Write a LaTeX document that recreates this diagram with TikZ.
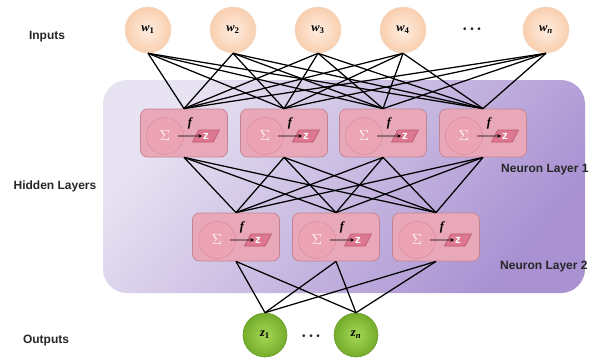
\documentclass[tikz,border=0pt]{standalone}
\usepackage{fontspec}
\setmainfont{Liberation Serif}
\setsansfont{Liberation Sans}
\usetikzlibrary{shapes.geometric,arrows.meta}

\definecolor{bgA}{HTML}{E8E3F2}
\definecolor{bgB}{HTML}{A991D2}
\definecolor{peachIn}{HTML}{FEEDE0}
\definecolor{peachOut}{HTML}{F9CFAE}
\definecolor{peachEdge}{HTML}{F3D9C6}
\definecolor{greenIn}{HTML}{A6D856}
\definecolor{greenOut}{HTML}{74AC2C}
\definecolor{greenEdge}{HTML}{6B9F28}
\definecolor{cellFill}{HTML}{E9A8B9}
\definecolor{cellEdge}{HTML}{C48593}
\definecolor{sumFill}{HTML}{ECA3B4}
\definecolor{sumEdge}{HTML}{D8909F}
\definecolor{actFill}{HTML}{DE7890}
\definecolor{actEdge}{HTML}{B85A70}

\tikzset{
  inputnode/.style={circle, minimum size=46pt, inner sep=0pt, draw=peachEdge,
    line width=0.6pt, inner color=peachIn, outer color=peachOut,
    font=\bfseries\itshape\fontsize{12.5}{12}\selectfont},
  outputnode/.style={circle, minimum size=44pt, inner sep=0pt, draw=greenEdge,
    line width=0.6pt, inner color=greenIn, outer color=greenOut,
    font=\bfseries\itshape\fontsize{12.5}{12}\selectfont},
  cell/.style={rectangle, rounded corners=7pt, minimum width=87pt,
    minimum height=48pt, draw=cellEdge, fill=cellFill, line width=0.8pt},
  sumnode/.style={circle, minimum size=37pt, inner sep=0pt, draw=sumEdge,
    fill=sumFill, text=white, line width=0.6pt, font=\fontsize{14}{14}\selectfont},
  actnode/.style={trapezium, trapezium left angle=68, trapezium right angle=112,
    trapezium stretches=true, minimum width=27pt, minimum height=12pt,
    inner sep=0pt, draw=actEdge, fill=actFill, text=white, line width=0.6pt,
    font=\sffamily\bfseries\fontsize{11.5}{10}\selectfont},
  fnlabel/.style={font=\bfseries\itshape\fontsize{12.5}{12}\selectfont, inner sep=0pt},
  sidelabel/.style={font=\sffamily\bfseries\fontsize{12}{12}\selectfont,
    text=black!85, inner sep=0pt},
  dotsnode/.style={font=\sffamily\fontsize{10}{10}\selectfont, inner sep=0pt,
    text=black!85},
  conn/.style={black, line width=1.25pt},
  flow/.style={black, line width=0.6pt, -{Stealth[length=4pt,width=3.5pt]}}
}

\newcommand{\dotrow}{\textbullet\hspace{3.6pt}\textbullet\hspace{3.6pt}\textbullet}

\begin{document}
\begin{tikzpicture}[x=1pt, y=-1pt]
  \useasboundingbox (0,0) rectangle (589,360);

  % hidden-layer panel
  \shade[top color=bgA, bottom color=bgB, shading angle=50, rounded corners=24pt]
    (103,80) rectangle (585,293);

  % inputs
  \node[inputnode] (w1) at (148,30) {w\textsubscript{\upshape 1}};
  \node[inputnode] (w2) at (233,30) {w\textsubscript{\upshape 2}};
  \node[inputnode] (w3) at (318,30) {w\textsubscript{\upshape 3}};
  \node[inputnode] (w4) at (403,30) {w\textsubscript{\upshape 4}};
  \node[dotsnode]  (wdots) at (472,30) {\dotrow};
  \node[inputnode] (wn) at (546,30) {w\textsubscript{n}};

  % outputs
  \node[outputnode] (z1) at (265,335) {z\textsubscript{\upshape 1}};
  \node[dotsnode]   (zdots) at (311,337) {\dotrow};
  \node[outputnode] (zn) at (356,335) {z\textsubscript{n}};

  % neuron layer 1
  \foreach \i/\x in {1/184,2/284,3/383,4/483} {
    \node[cell] (h\i) at (\x,133) {};
    \node[sumnode] (hs\i) at (\x-19,136) {$\Sigma$};
    \node[actnode] (ha\i) at (\x+22,136) {z};
    \node[fnlabel] (hf\i) at (\x+6,123) {f};
    \draw[flow] ([xshift=13pt]hs\i.center) -- ([xshift=7pt]ha\i.west);
  }

  % neuron layer 2
  \foreach \i/\x in {1/236,2/336,3/436} {
    \node[cell] (g\i) at (\x,237) {};
    \node[sumnode] (gs\i) at (\x-19,240) {$\Sigma$};
    \node[actnode] (ga\i) at (\x+22,240) {z};
    \node[fnlabel] (gf\i) at (\x+6,227) {f};
    \draw[flow] ([xshift=13pt]gs\i.center) -- ([xshift=7pt]ga\i.west);
  }

  % connections
  \foreach \a in {w1,w2,w3,w4,wn}
    \foreach \b in {h1,h2,h3,h4}
      \draw[conn] (\a.south) -- (\b.north);
  \foreach \a in {h1,h2,h3,h4}
    \foreach \b in {g1,g2,g3}
      \draw[conn] (\a.south) -- (\b.north);
  \foreach \a in {g1,g2,g3}
    \foreach \b in {z1,zn}
      \draw[conn] (\a.south) -- (\b.north);

  % side labels
  \node[sidelabel] (linputs) at (47,37) {Inputs};
  \node[sidelabel] (lhidden) at (55,186) {Hidden Layers};
  \node[sidelabel] (loutputs) at (46,341) {Outputs};
  \node[sidelabel, anchor=west] (ln1) at (501,170) {Neuron Layer 1};
  \node[sidelabel, anchor=west] (ln2) at (500,267) {Neuron Layer 2};
\end{tikzpicture}
\end{document}
